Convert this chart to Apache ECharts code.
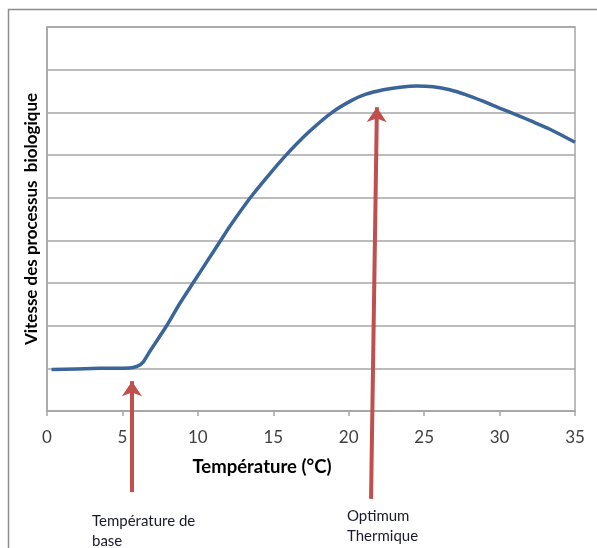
<!DOCTYPE html>
<html>
<head>
<meta charset="utf-8">
<script src="https://cdn.jsdelivr.net/npm/echarts@6/dist/echarts.min.js"></script>
<style>
html,body{margin:0;padding:0;background:#fff;}
#c{width:597px;height:548px;}
</style>
</head>
<body>
<div id="c"></div>
<script>
// Data
const temps = [0.3, 3.5, 5.5, 6.0, 6.4, 6.8, 7.9, 8.8, 9.7, 10.6, 11.5, 12.1, 13.5, 14.7, 15.8, 17.3, 18.9, 20.2, 21.1, 22.3, 23.4, 24.5, 25.6, 26.7, 27.8, 28.9, 30.0, 31.2, 32.2, 33.3, 35];
const vitesse = [0.97, 1.0, 1.01, 1.05, 1.16, 1.39, 1.98, 2.52, 3.01, 3.5, 3.99, 4.32, 5.01, 5.53, 5.98, 6.52, 7.0, 7.28, 7.42, 7.53, 7.59, 7.62, 7.6, 7.53, 7.41, 7.26, 7.1, 6.93, 6.78, 6.61, 6.3];
const xTicks = [0, 5, 10, 15, 20, 25, 30, 35];
// Arrows: [x start, y start, x end, y end] in data units
const arrowBase = [5.63, -1.9, 5.63, 0.70];
const arrowOpt = [21.48, -2.06, 21.87, 7.12];
const xName = 'Température (°C)';
const yName = 'Vitesse des processus  biologique';
const noteBase = 'Température de\nbase';
const noteOpt = 'Optimum\nThermique';

const FONT = 'Lato, "Open Sans", sans-serif';
const chart = echarts.init(document.getElementById('c'));
chart.setOption({
  animation: false,
  backgroundColor: '#fff',
  grid: { left: 47, right: 22, top: 27, bottom: 137, show: true, borderColor: '#a6a6a6', borderWidth: 1.5, backgroundColor: 'transparent' },
  xAxis: {
    type: 'value', min: 0, max: 35, interval: 5,
    axisLine: { show: true, lineStyle: { color: '#a6a6a6', width: 1.5 } },
    axisTick: { show: true, inside: false, length: 5, lineStyle: { color: '#a6a6a6', width: 1.5 } },
    splitLine: { show: false },
    axisLabel: { color: '#404040', fontSize: 17, fontFamily: FONT, margin: 18,
      formatter: v => xTicks.includes(v) ? String(v) : '' },
    name: xName, nameLocation: 'middle', nameGap: 47,
    nameTextStyle: { color: '#000', fontSize: 18.5, fontWeight: 'bold', fontFamily: FONT, padding: [0, 98, 0, 0] }
  },
  yAxis: {
    type: 'value', min: 0, max: 9, interval: 1,
    axisLine: { show: true, lineStyle: { color: '#a6a6a6', width: 1.5 } },
    axisTick: { show: false },
    axisLabel: { show: false },
    splitLine: { show: true, lineStyle: { color: '#a6a6a6', width: 1.5 } },
    name: yName, nameLocation: 'middle', nameGap: 7,
    nameTextStyle: { color: '#000', fontSize: 17, fontWeight: 'bold', fontFamily: FONT }
  },
  series: [
    {
      type: 'line', data: temps.map((t, i) => [t, vitesse[i]]),
      smooth: 0.2, showSymbol: false, symbol: 'none',
      lineStyle: { color: '#3b6598', width: 3.5 }
    },
    {
      type: 'lines', coordinateSystem: 'cartesian2d', clip: false, z: 5,
      symbol: ['none', 'arrow'], symbolSize: [0, 15],
      lineStyle: { color: '#c0504d', width: 4, opacity: 1, curveness: 0 },
      data: [
        { coords: [[arrowBase[0], arrowBase[1]], [arrowBase[2], arrowBase[3]]] },
        { coords: [[arrowOpt[0], arrowOpt[1]], [arrowOpt[2], arrowOpt[3]]] }
      ]
    }
  ],
  graphic: [
    { type: 'rect', left: 6, top: 7, silent: true, z: -1,
      shape: { x: 0, y: 0, width: 620, height: 600 },
      style: { fill: 'none', stroke: '#8c8c8c', lineWidth: 1.5 } },
    { type: 'text', left: 92, top: 511,
      style: { text: noteBase, fill: '#1a1a2e', font: '15px ' + FONT, lineHeight: 20 } },
    { type: 'text', left: 347, top: 506,
      style: { text: noteOpt, fill: '#1a1a2e', font: '15px ' + FONT, lineHeight: 20 } }
  ]
});
</script>
</body>
</html>
